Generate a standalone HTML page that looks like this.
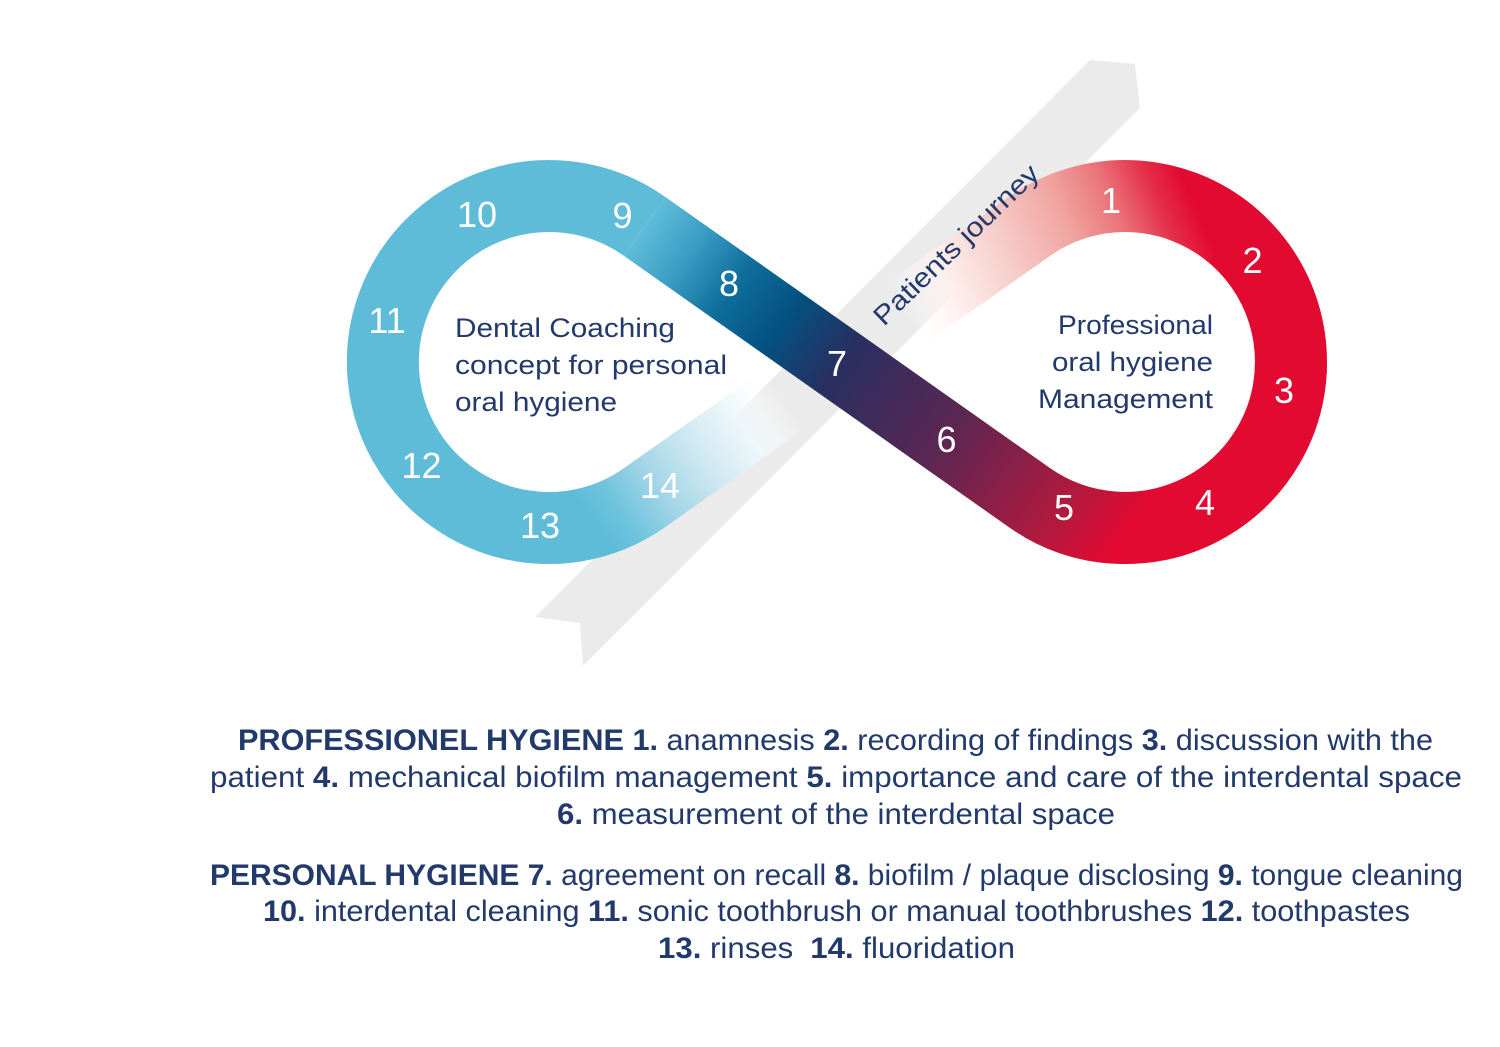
<!DOCTYPE html>
<html>
<head>
<meta charset="utf-8">
<style>
html,body{margin:0;padding:0;background:#ffffff;}
body{width:1500px;height:1047px;overflow:hidden;}
svg{display:block;}
.num{font-family:"Liberation Sans",sans-serif;font-size:36px;fill:#ffffff;text-anchor:middle;}
.lbl{font-family:"Liberation Sans",sans-serif;font-size:27px;fill:#23396b;}
.para{font-family:"Liberation Sans",sans-serif;font-size:30px;fill:#22396c;}
.b{font-weight:bold;}
</style>
</head>
<body>
<svg width="1500" height="1047" viewBox="0 0 1500 1047" xmlns="http://www.w3.org/2000/svg">
<defs>
  <linearGradient id="gc" gradientUnits="userSpaceOnUse" x1="600" y1="195" x2="1110" y2="555">
    <stop offset="0" stop-color="#5ebcd9"/>
    <stop offset="0.09" stop-color="#5ebcd9"/>
    <stop offset="0.17" stop-color="#3a9dc3"/>
    <stop offset="0.26" stop-color="#0f6e9c"/>
    <stop offset="0.36" stop-color="#04507f"/>
    <stop offset="0.47" stop-color="#282f60"/>
    <stop offset="0.68" stop-color="#5d2652"/>
    <stop offset="0.90" stop-color="#b3193d"/>
    <stop offset="1" stop-color="#e30a32"/>
  </linearGradient>
  <linearGradient id="gb" gradientUnits="userSpaceOnUse" x1="1190" y1="195" x2="905" y2="318">
    <stop offset="0" stop-color="#e30a32"/>
    <stop offset="0.10" stop-color="#e42e48"/>
    <stop offset="0.24" stop-color="#ea7378"/>
    <stop offset="0.40" stop-color="#f0a4a0"/>
    <stop offset="0.62" stop-color="#f6cdc8"/>
    <stop offset="0.82" stop-color="#fdeeec"/>
    <stop offset="1" stop-color="#ffffff" stop-opacity="0"/>
  </linearGradient>
  <linearGradient id="ge" gradientUnits="userSpaceOnUse" x1="600" y1="530" x2="783.5" y2="399.7">
    <stop offset="0" stop-color="#5ebcd9"/>
    <stop offset="0.12" stop-color="#6ec3dd"/>
    <stop offset="0.33" stop-color="#a5d6e7"/>
    <stop offset="0.56" stop-color="#d0e9f2"/>
    <stop offset="0.78" stop-color="#eef7fa"/>
    <stop offset="1" stop-color="#ffffff" stop-opacity="0"/>
  </linearGradient>
</defs>

<!-- grey patients journey arrow -->
<polygon points="1090,60 1135,64 1140,108 583,666 580,623 535,617" fill="#ebebeb"/>

<g fill="none" stroke-width="72">
  <!-- right loop solid red -->
  <path d="M1042 505.8 A166 166 0 0 0 1291 362 A166 166 0 0 0 1181.8 206" stroke="#e30a32"/>
  <!-- left loop solid blue -->
  <path d="M644.6 226.4 A166 166 0 1 0 534.5 527.4" stroke="#5ebcd9"/>
  <!-- fading band near 1 -->
  <path d="M1231.7 234.8 A166 166 0 0 0 1029.4 226.4 L906.8 312.8" stroke="url(#gb)"/>
  <!-- fading band near 14 -->
  <path d="M520.2 525.5 A166 166 0 0 0 644.6 497.6 L783.5 399.7" stroke="url(#ge)"/>
  <!-- crossing band -->
  <path d="M644.6 226.4 L1029.4 497.6 A166 166 0 0 0 1291 362" stroke="url(#gc)"/>
</g>

<!-- Patients journey -->
<text class="lbl" transform="translate(884 327) rotate(-44)" x="0" y="0" font-size="29" textLength="218" lengthAdjust="spacingAndGlyphs">Patients journey</text>

<!-- numbers -->
<text class="num" x="1111" y="213">1</text>
<text class="num" x="1252.5" y="273">2</text>
<text class="num" x="1284" y="403">3</text>
<text class="num" x="1205" y="515">4</text>
<text class="num" x="1064" y="520">5</text>
<text class="num" x="946.5" y="452">6</text>
<text class="num" x="837" y="376">7</text>
<text class="num" x="729" y="296">8</text>
<text class="num" x="622.5" y="228">9</text>
<text class="num" x="477" y="227">10</text>
<text class="num" x="387" y="333">11</text>
<text class="num" x="421.5" y="478">12</text>
<text class="num" x="540" y="538">13</text>
<text class="num" x="660" y="498">14</text>

<!-- inner labels -->
<text class="lbl" x="455" y="337" textLength="220" lengthAdjust="spacingAndGlyphs">Dental Coaching</text>
<text class="lbl" x="455" y="374" textLength="272" lengthAdjust="spacingAndGlyphs">concept for personal</text>
<text class="lbl" x="455" y="411" textLength="162" lengthAdjust="spacingAndGlyphs">oral hygiene</text>

<text class="lbl" x="1058" y="334" textLength="155" lengthAdjust="spacingAndGlyphs">Professional</text>
<text class="lbl" x="1052" y="371" textLength="161" lengthAdjust="spacingAndGlyphs">oral hygiene</text>
<text class="lbl" x="1038" y="408" textLength="175" lengthAdjust="spacingAndGlyphs">Management</text>

<!-- bottom paragraphs -->
<text class="para" x="238" y="750" textLength="1195" lengthAdjust="spacingAndGlyphs"><tspan class="b">PROFESSIONEL HYGIENE 1.</tspan> anamnesis <tspan class="b">2.</tspan> recording of findings <tspan class="b">3.</tspan> discussion with the</text>
<text class="para" x="210" y="787" textLength="1252" lengthAdjust="spacingAndGlyphs">patient <tspan class="b">4.</tspan> mechanical biofilm management <tspan class="b">5.</tspan> importance and care of the interdental space</text>
<text class="para" x="557" y="824" textLength="558" lengthAdjust="spacingAndGlyphs"><tspan class="b">6.</tspan> measurement of the interdental space</text>

<text class="para" x="210" y="885" textLength="1253" lengthAdjust="spacingAndGlyphs"><tspan class="b">PERSONAL HYGIENE 7.</tspan> agreement on recall <tspan class="b">8.</tspan> biofilm / plaque disclosing <tspan class="b">9.</tspan> tongue cleaning</text>
<text class="para" x="263" y="921" textLength="1147" lengthAdjust="spacingAndGlyphs"><tspan class="b">10.</tspan> interdental cleaning <tspan class="b">11.</tspan> sonic toothbrush or manual toothbrushes <tspan class="b">12.</tspan> toothpastes</text>
<text class="para" x="658" y="958" textLength="357" lengthAdjust="spacingAndGlyphs"><tspan class="b">13.</tspan> rinses <tspan class="b" dx="8">14.</tspan> fluoridation</text>
</svg>
</body>
</html>
